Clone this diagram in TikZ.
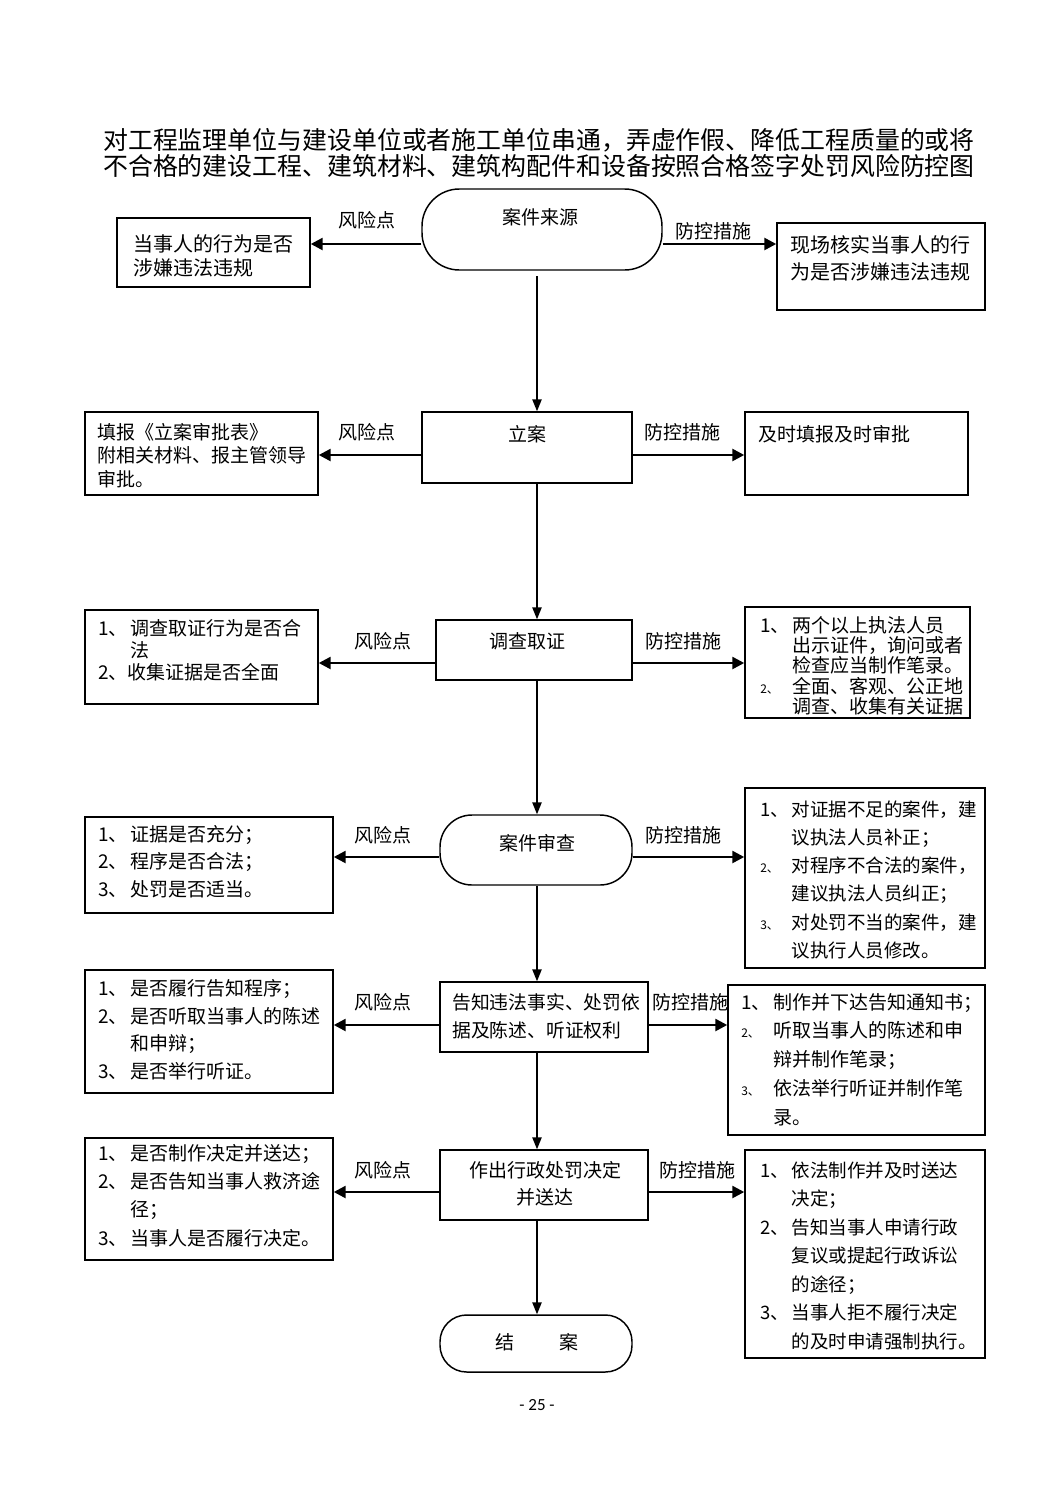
\documentclass[tikz,border=0pt]{standalone}
\usepackage{fontspec}
\setmainfont{Noto Sans CJK SC}
\newfontfamily\numfont{Carlito}
\usetikzlibrary{arrows.meta,fit,calc}
\newcommand\pxfont[2]{\fontsize{\fpeval{#1*0.75}pt}{\fpeval{#2*0.75}pt}\selectfont}
\newcommand\nbx[1]{\makebox[1.7em][l]{#1}}
\newcommand\ind{\hspace*{1.7em}}
\begin{document}
\begin{tikzpicture}[x=0.75pt,y=-0.75pt,
 box/.style={draw, line width=1.1pt, inner sep=0pt},
 term/.style={draw, line width=1.1pt, inner sep=0pt},
 tx/.style={inner sep=0pt, align=left, anchor=north west},
 ctx/.style={inner sep=0pt, align=center},
 lab/.style={inner sep=0pt, font=\pxfont{19}{19}},
 harr/.style={line width=1.9pt, -{Triangle[length=9pt,width=9pt]}},
 varr/.style={line width=1.1pt, -{Triangle[length=9pt,width=7pt]}}]
\useasboundingbox (0,0) rectangle (1063,1502);
\fill[white] (0,0) rectangle (1063,1502);

% title
\node[ctx, font=\pxfont{24.9}{26}] (title) at (539,153) {对工程监理单位与建设单位或者施工单位串通，弄虚作假、降低工程质量的或将\\不合格的建设工程、建筑材料、建筑构配件和设备按照合格签字处罚风险防控图};

% helper coordinates
\coordinate (vx) at (537,0);
\coordinate (y1) at (0,244);
\coordinate (y2) at (0,455);
\coordinate (y3) at (0,663);
\coordinate (y4) at (0,857);
\coordinate (y5) at (0,1025);
\coordinate (y6) at (0,1192);

% row 1
\node[term, rounded corners=28pt, fit={(422,189)(662,270)}] (C1) {};
\node[ctx, font=\pxfont{19}{19}] (C1t) at (540,217) {案件来源};
\node[box, fit={(117,218)(310,287)}] (L1) {};
\node[tx, font=\pxfont{20}{24}] (L1t) at (133,234.6) {当事人的行为是否\\涉嫌违法违规};
\node[box, fit={(777,223)(985,310)}] (R1) {};
\node[tx, font=\pxfont{20}{27}] (R1t) at (790,235.6) {现场核实当事人的行\\为是否涉嫌违法违规};
\node[lab] (k1) at (367,220) {风险点};
\node[lab] (m1) at (713,231) {防控措施};

% row 2
\node[box, fit={(422,412)(632,483)}] (C2) {};
\node[ctx, font=\pxfont{19}{19}] (C2t) at (527,434) {立案};
\node[box, fit={(85,412)(318,495)}] (L2) {};
\node[tx, font=\pxfont{19}{23.5}] (L2t) at (97,423) {填报《立案审批表》\\附相关材料、报主管领导\\审批。};
\node[box, fit={(745,412)(968,495)}] (R2) {};
\node[tx, font=\pxfont{19}{19}] (R2t) at (758,425) {及时填报及时审批};
\node[lab] (k2) at (367,432) {风险点};
\node[lab] (m2) at (682,432) {防控措施};

% row 3
\node[box, fit={(436,620)(632,680)}] (C3) {};
\node[ctx, font=\pxfont{19}{19}] (C3t) at (527,641) {调查取证};
\node[box, fit={(85,610)(318,704)}] (L3) {};
\node[tx, font=\pxfont{19}{22}] (L3t) at (98,619) {\nbx{1、}调查取证行为是否合\\\ind 法\\2、收集证据是否全面};
\node[box, fit={(745,607)(970,718)}] (R3) {};
\node[tx, font=\pxfont{19}{20.3}] (R3t) at (760,616) {\nbx{1、}两个以上执法人员\\\ind 出示证件，询问或者\\\ind 检查应当制作笔录。\\\nbx{\small 2、}全面、客观、公正地\\\ind 调查、收集有关证据};
\node[lab] (k3) at (383,641) {风险点};
\node[lab] (m3) at (683,641) {防控措施};

% row 4
\node[term, rounded corners=24pt, fit={(440,815)(632,885)}] (C4) {};
\node[ctx, font=\pxfont{19}{19}] (C4t) at (537,843) {案件审查};
\node[box, fit={(85,817)(333,913)}] (L4) {};
\node[tx, font=\pxfont{19}{27.5}] (L4t) at (98,825) {\nbx{1、}证据是否充分；\\\nbx{2、}程序是否合法；\\\nbx{3、}处罚是否适当。};
\node[box, fit={(745,788)(985,968)}] (R4) {};
\node[tx, font=\pxfont{18.5}{28.2}] (R4t) at (760,800.3) {\nbx{1、}对证据不足的案件，建\\\ind 议执法人员补正；\\\nbx{\small 2、}对程序不合法的案件，\\\ind 建议执法人员纠正；\\\nbx{\small 3、}对处罚不当的案件，建\\\ind 议执行人员修改。};
\node[lab] (k4) at (383,835) {风险点};
\node[lab] (m4) at (683,835) {防控措施};

% row 5
\node[box, fit={(440,982)(648,1052)}] (C5) {};
\node[tx, font=\pxfont{18.8}{28}] (C5t) at (452,993.2) {告知违法事实、处罚依\\据及陈述、听证权利};
\node[box, fit={(85,970)(333,1093)}] (L5) {};
\node[tx, font=\pxfont{19}{27.7}] (L5t) at (98,979) {\nbx{1、}是否履行告知程序；\\\nbx{2、}是否听取当事人的陈述\\\ind 和申辩；\\\nbx{3、}是否举行听证。};
\node[box, fit={(728,985)(985,1135)}] (R5) {};
\node[tx, font=\pxfont{19}{28.7}] (R5t) at (741,993) {\nbx{1、}制作并下达告知通知书；\\\nbx{\small 2、}听取当事人的陈述和申\\\ind 辩并制作笔录；\\\nbx{\small 3、}依法举行听证并制作笔\\\ind 录。};
\node[lab] (k5) at (383,1002) {风险点};
\node[lab] (m5) at (690,1002) {防控措施};

% row 6
\node[box, fit={(440,1150)(648,1220)}] (C6) {};
\node[ctx, font=\pxfont{19}{27}] (C6t) at (545,1183.5) {作出行政处罚决定\\并送达};
\node[box, fit={(85,1138)(333,1260)}] (L6) {};
\node[tx, font=\pxfont{19}{28.3}] (L6t) at (98,1144) {\nbx{1、}是否制作决定并送达；\\\nbx{2、}是否告知当事人救济途\\\ind 径；\\\nbx{3、}当事人是否履行决定。};
\node[box, fit={(745,1150)(985,1358)}] (R6) {};
\node[tx, font=\pxfont{18.5}{28.5}] (R6t) at (760,1161.3) {\nbx{1、}依法制作并及时送达\\\ind 决定；\\\nbx{2、}告知当事人申请行政\\\ind 复议或提起行政诉讼\\\ind 的途径；\\\nbx{3、}当事人拒不履行决定\\\ind 的及时申请强制执行。};
\node[lab] (k6) at (383,1170) {风险点};
\node[lab] (m6) at (697,1170) {防控措施};

% row 7
\node[term, rounded corners=20pt, fit={(440,1315)(632,1372)}] (C7) {};
\node[ctx, font=\pxfont{19}{19}] (C7t) at (537,1342) {结\hspace{2.4em}案};

% page number
\node[inner sep=0pt, font=\numfont\pxfont{17}{17}] (pg) at (537,1405) {- 25 -};

% horizontal arrows
\draw[harr] (C1.west |- y1) -- (L1.east |- y1);
\draw[harr] (C1.east |- y1) -- (R1.west |- y1);
\draw[harr] (C2.west |- y2) -- (L2.east |- y2);
\draw[harr] (C2.east |- y2) -- (R2.west |- y2);
\draw[harr] (C3.west |- y3) -- (L3.east |- y3);
\draw[harr] (C3.east |- y3) -- (R3.west |- y3);
\draw[harr] (C4.west |- y4) -- (L4.east |- y4);
\draw[harr] (C4.east |- y4) -- (R4.west |- y4);
\draw[harr] (C5.west |- y5) -- (L5.east |- y5);
\draw[harr] (C5.east |- y5) -- (R5.west |- y5);
\draw[harr] (C6.west |- y6) -- (L6.east |- y6);
\draw[harr] (C6.east |- y6) -- (R6.west |- y6);

% vertical arrows
\draw[varr, shorten <=4pt] (vx |- C1.south) -- (vx |- C2.north);
\draw[varr] (vx |- C2.south) -- (vx |- C3.north);
\draw[varr] (vx |- C3.south) -- (vx |- C4.north);
\draw[varr] (vx |- C4.south) -- (vx |- C5.north);
\draw[varr] (vx |- C5.south) -- (vx |- C6.north);
\draw[varr] (vx |- C6.south) -- (vx |- C7.north);
\end{tikzpicture}
\end{document}
